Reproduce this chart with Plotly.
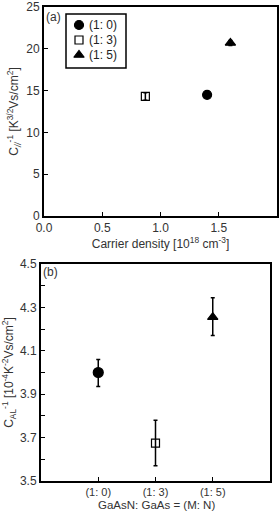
import plotly.graph_objects as go

W, H = 280, 512
OFF = 0  # page body margin removed by post_script

# Panel (a)
labels = ["(1: 0)", "(1: 3)", "(1: 5)"]
carrier_density = [1.40, 0.87, 1.60]
c_par_inv = [14.5, 14.3, 20.7]
c_par_err = [0.0, 0.45, 0.3]

# Panel (b)
cat_pos = [1, 2, 3]
c_al_inv = [4.00, 3.675, 4.255]
c_al_err_plus = [0.06, 0.105, 0.09]
c_al_err_minus = [0.065, 0.105, 0.085]

symbols = ["circle", "square-open", "triangle-up"]
sizes_a = [9, 8, 9]
sizes_b = [10, 8, 9]


def px(x):
    return min(1.0, max(0.0, (x - OFF) / W))


def py(y):
    return min(1.0, max(0.0, 1 - (y - OFF) / H))


fig = go.Figure()
for i in range(3):
    fig.add_trace(go.Scatter(
        x=[carrier_density[i]], y=[c_par_inv[i]], mode="markers", name=labels[i],
        marker=dict(symbol=symbols[i], size=sizes_a[i], color="black", line=dict(color="black", width=1.2)),
        error_y=dict(type="data", array=[c_par_err[i]], color="black", thickness=1.5, width=2,
                     visible=c_par_err[i] > 0),
        xaxis="x", yaxis="y", showlegend=False))
for i in range(3):
    fig.add_trace(go.Scatter(
        x=[cat_pos[i]], y=[c_al_inv[i]], mode="markers", name=labels[i],
        marker=dict(symbol=symbols[i], size=sizes_b[i], color="black", line=dict(color="black", width=1.2)),
        error_y=dict(type="data", symmetric=False, array=[c_al_err_plus[i]], arrayminus=[c_al_err_minus[i]],
                     color="black", thickness=1.5, width=2),
        xaxis="x2", yaxis="y2", showlegend=False))

# custom legend (pixel-space overlay axis)
leg_x = 79
leg_text_x = 87
leg_rows = [25, 40, 55]
for i in range(3):
    fig.add_trace(go.Scatter(
        x=[leg_x], y=[leg_rows[i]], mode="markers", hoverinfo="skip",
        marker=dict(symbol=symbols[i], size=[9, 8, 9][i], color="black", line=dict(color="black", width=1.2)),
        xaxis="x3", yaxis="y3", showlegend=False))

axis_common = dict(showline=True, linecolor="black", linewidth=2, mirror=True, ticks="inside",
                   ticklen=4, tickcolor="black", tickwidth=1.3, showgrid=False, zeroline=False,
                   automargin=False)

annotations = [
    dict(text="(a)", x=px(53), y=py(17), xref="paper", yref="paper", xanchor="center", yanchor="middle",
         showarrow=False, font=dict(size=12)),
    dict(text="(b)", x=px(50), y=py(272), xref="paper", yref="paper", xanchor="center", yanchor="middle",
         showarrow=False, font=dict(size=12)),
    dict(text="GaAsN: GaAs = (M: N)", x=px(156), y=py(505), xref="paper", yref="paper",
         xanchor="center", yanchor="middle", showarrow=False, font=dict(size=11.5)),
]
for i in range(3):
    annotations.append(dict(text=labels[i], x=px(leg_text_x), y=py(leg_rows[i]), xref="paper", yref="paper",
                            xanchor="left", yanchor="middle", showarrow=False,
                            font=dict(size=12, color="#222")))

fig.update_layout(
    width=W, height=H, margin=dict(l=0, r=0, t=0, b=0, autoexpand=False),
    paper_bgcolor="white", plot_bgcolor="rgba(0,0,0,0)",
    font=dict(family="Liberation Sans, Arial, sans-serif", color="#333"),
    showlegend=False,
    xaxis=dict(domain=[px(44), px(277)], range=[0, 2], tickvals=[0, 0.5, 1.0, 1.5, 2.0],
               ticktext=["0.0", "0.5", "1.0", "1.5", "2.0"], anchor="y",
               tickfont=dict(size=12, color="#333"),
               title=dict(text="Carrier density [10<sup>18</sup> cm<sup>-3</sup>]", font=dict(size=12), standoff=3),
               **axis_common),
    yaxis=dict(domain=[py(216), py(7)], range=[0, 25], tickvals=[0, 5, 10, 15, 20, 25], anchor="x",
               tickfont=dict(size=12, color="#333"),
               title=dict(text="C<sub><i>//</i></sub><sup>-1</sup> [K<sup>3/2</sup>Vs/cm<sup>2</sup>]",
                          font=dict(size=12), standoff=5),
               **axis_common),
    xaxis2=dict(domain=[px(41), px(270)], range=[0, 4], tickvals=cat_pos, ticktext=labels, anchor="y2",
                tickfont=dict(size=11, color="#333"),
                **axis_common),
    yaxis2=dict(domain=[py(481), py(264)], range=[3.5, 4.5],
                tickvals=[3.5, 3.6, 3.7, 3.8, 3.9, 4.0, 4.1, 4.2, 4.3, 4.4, 4.5],
                ticktext=["3.5", "", "3.7", "", "3.9", "", "4.1", "", "4.3", "", "4.5"], anchor="x2",
                tickfont=dict(size=12, color="#333"),
                title=dict(text="C<sub>AL</sub><sup>-1</sup> [10<sup>-4</sup>K<sup>-2</sup>Vs/cm<sup>2</sup>]",
                           font=dict(size=12), standoff=5),
                **axis_common),
    xaxis3=dict(domain=[0, 1], range=[OFF, W + OFF], visible=False, fixedrange=True, anchor="y3"),
    yaxis3=dict(domain=[0, 1], range=[H + OFF, OFF], visible=False, fixedrange=True, anchor="x3"),
    shapes=[dict(type="rect", xref="paper", yref="paper", x0=px(66), x1=px(126), y0=py(14), y1=py(68),
                 line=dict(color="black", width=1.5), fillcolor="white", layer="below")],
    annotations=annotations,
)

fig.write_html("out.html", config={"displayModeBar": False},
               post_script="document.body.style.margin='0px'; document.body.style.overflow='hidden';")
